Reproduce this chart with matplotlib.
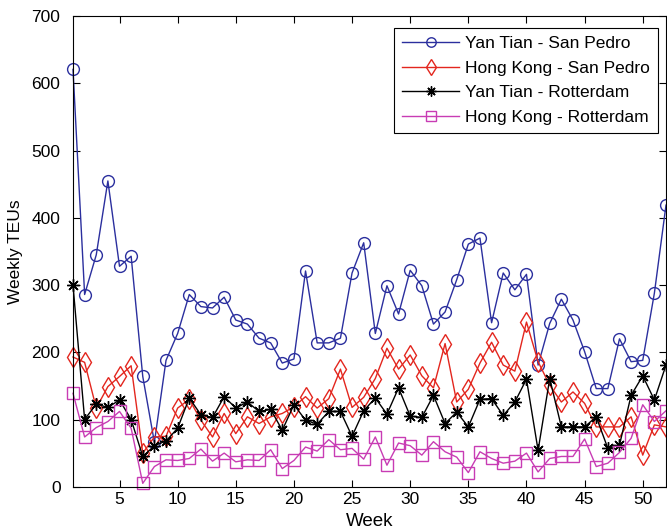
import matplotlib
matplotlib.use("Agg")
import matplotlib.pyplot as plt
import numpy as np

weeks = np.arange(1, 53)

# weekly TEUs
yantian_sanpedro = [621, 286, 345, 455, 328, 343, 164, 66, 188, 228,
                    286, 268, 266, 282, 248, 242, 221, 214, 184, 190,
                    321, 214, 214, 221, 318, 363, 228, 299, 257, 322,
                    299, 242, 260, 308, 361, 370, 244, 318, 293, 316,
                    181, 243, 279, 248, 201, 146, 146, 220, 186, 188,
                    288, 419]
hongkong_sanpedro = [193, 185, 117, 149, 164, 180, 50, 74, 75, 117,
                     130, 99, 74, 109, 79, 104, 94, 104, 109, 119,
                     134, 117, 131, 175, 118, 133, 161, 206, 175, 196,
                     165, 147, 213, 126, 145, 184, 215, 181, 172, 245,
                     186, 151, 126, 141, 124, 89, 89, 89, 104, 47,
                     92, 89]
yantian_rotterdam = [300, 100, 123, 118, 129, 100, 45, 61, 68, 87,
                     132, 107, 103, 134, 117, 126, 112, 115, 84, 122,
                     99, 93, 112, 112, 75, 113, 132, 108, 147, 105,
                     103, 136, 94, 111, 89, 130, 131, 106, 126, 160,
                     54, 161, 89, 89, 89, 104, 57, 62, 136, 165,
                     129, 181]
hongkong_rotterdam = [139, 74, 88, 97, 112, 87, 5, 30, 40, 39,
                      42, 56, 38, 50, 37, 40, 39, 55, 27, 39,
                      59, 53, 70, 55, 57, 41, 74, 32, 65, 61,
                      47, 67, 52, 44, 21, 52, 42, 35, 38, 50,
                      22, 42, 45, 45, 71, 30, 35, 51, 72, 122,
                      97, 113]

labels = ["Yan Tian - San Pedro", "Hong Kong - San Pedro",
          "Yan Tian - Rotterdam", "Hong Kong - Rotterdam"]

plt.rcParams['font.family'] = ['Liberation Sans', 'DejaVu Sans']

fig = plt.figure(figsize=(6.67, 5.32), dpi=100)
ax = fig.add_axes([73/667, (532-486.7)/532, (666-73)/667, (486.7-16.3)/532])

ax.plot(weeks, yantian_sanpedro, color='#2b2f9e', lw=1.0, marker='o',
        ms=8.5, mfc='none', mew=1.0, label=labels[0], clip_on=False)
ax.plot(weeks, hongkong_sanpedro, color='#e3261e', lw=1.0, marker='d',
        ms=10, mfc='none', mew=1.0, label=labels[1], clip_on=False)
ax.plot(weeks, yantian_rotterdam, color='black', lw=1.0, marker=(8, 2, 0),
        ms=9, mew=1.0, label=labels[2], clip_on=False)
ax.plot(weeks, hongkong_rotterdam, color='#c83cb4', lw=1.0, marker='s',
        ms=9, mfc='none', mew=1.0, label=labels[3], clip_on=False)

ax.set_xlim(1, 52)
ax.set_ylim(0, 700)
ax.set_xticks(np.arange(5, 51, 5))
ax.set_yticks(np.arange(0, 701, 100))
ax.tick_params(direction='in', length=5, width=0.8, top=True, right=True,
               labelsize=12.5)
ax.tick_params(axis='y', pad=9)
ax.tick_params(axis='x', pad=4)
for s in ax.spines.values():
    s.set_linewidth(0.8)

ax.set_xlabel("Week", fontsize=13.5, labelpad=4)
ax.set_ylabel("Weekly TEUs", fontsize=12.5, labelpad=6)

leg = ax.legend(loc='upper right', bbox_to_anchor=(658/667, 1-28/532),
                bbox_transform=fig.transFigure, borderaxespad=0,
                fancybox=False, edgecolor='black', framealpha=1,
                fontsize=12.5, handlelength=3.3, handletextpad=0.35,
                labelspacing=0.55, borderpad=0.45, markerscale=0.8)
leg.get_frame().set_linewidth(0.8)

fig.savefig("out.png", dpi=100)
